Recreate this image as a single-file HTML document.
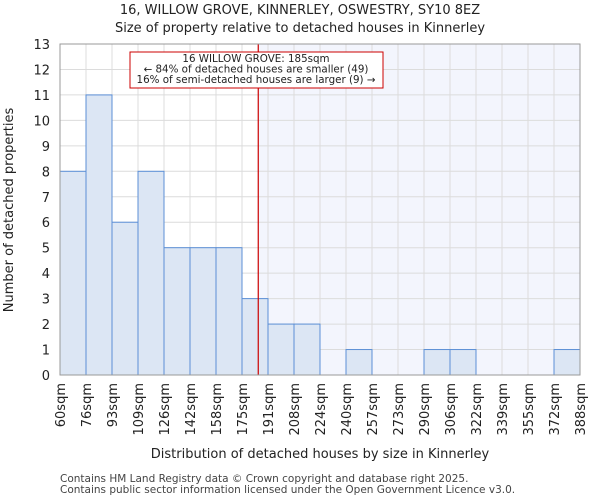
<!DOCTYPE html>
<html><head><meta charset="utf-8"><style>body{margin:0;background:#fff;font-family:"DejaVu Sans","Liberation Sans",sans-serif}</style></head>
<body>
<svg id="chart" width="600" height="500" xmlns="http://www.w3.org/2000/svg" font-family="DejaVu Sans, Liberation Sans, sans-serif"></svg>
<script>
const binLabels=["60sqm","76sqm","93sqm","109sqm","126sqm","142sqm","158sqm","175sqm","191sqm","208sqm","224sqm","240sqm","257sqm","273sqm","290sqm","306sqm","322sqm","339sqm","355sqm","372sqm","388sqm"];
const binEdges=[60,76,93,109,126,142,158,175,191,208,224,240,257,273,290,306,322,339,355,372,388];
const counts=[8,11,6,8,5,5,5,3,2,2,0,1,0,0,1,1,0,0,0,1];
const yTicks=[0,1,2,3,4,5,6,7,8,9,10,11,12,13];
const markerValue=185;
const L=60,R=580,T=44,B=375,YMAX=13;
const NS="http://www.w3.org/2000/svg";
const svg=document.getElementById('chart');
const n=counts.length;
const xi=i=>L+(R-L)*i/n;
function xv(v){for(let i=0;i<n;i++){if(v<=binEdges[i+1])return xi(i)+(v-binEdges[i])/(binEdges[i+1]-binEdges[i])*(R-L)/n;}return R;}
const y=v=>B-(B-T)*v/YMAX;
function el(t,a,p){const e=document.createElementNS(NS,t);for(const k in a)e.setAttribute(k,a[k]);(p||svg).appendChild(e);return e;}
const mx=xv(markerValue);
let e=el('rect',{x:mx,y:T,width:R-mx,height:B-T,fill:'#f3f5fd'});


yTicks.forEach(t=>{let g=el('line',{x1:L,x2:R,y1:y(t),y2:y(t),stroke:'#dcdcdc','stroke-width':1});


let tx=el('text',{x:L-10,y:y(t)+5,'text-anchor':'end','font-size':13,fill:'#222'});tx.textContent=t;

});
for(let i=0;i<=n;i++){let g=el('line',{x1:xi(i),x2:xi(i),y1:T,y2:B,stroke:'#dcdcdc','stroke-width':1});


let tx=el('text',{transform:`translate(${xi(i)+5},${B+8}) rotate(-90)`,'text-anchor':'end','font-size':13,fill:'#222'});tx.textContent=binLabels[i];

}
counts.forEach((c,i)=>{if(c<=0)return;let r=el('rect',{x:xi(i),y:y(c),width:(R-L)/n,height:B-y(c),fill:'#dce6f4',stroke:'#5b8fd6','stroke-width':1});

});
e=el('line',{x1:mx,x2:mx,y1:T,y2:B,stroke:'#cc0000','stroke-width':1.2});


e=el('rect',{x:L,y:T,width:R-L,height:B-T,fill:'none',stroke:'#999'});


const box=el('g',{});


el('rect',{x:130,y:52,width:253,height:36,fill:'#fff',stroke:'#cc0000'},box);
["16 WILLOW GROVE: 185sqm","← 84% of detached houses are smaller (49)","16% of semi-detached houses are larger (9) →"].forEach((s,k)=>{let t=el('text',{x:256,y:62+k*10.5,'text-anchor':'middle','font-size':10.3,fill:'#222'},box);t.textContent=s;});
function txt(s,a,name){let t=el('text',a);t.textContent=s;}
txt("16, WILLOW GROVE, KINNERLEY, OSWESTRY, SY10 8EZ",{x:300,y:14,'text-anchor':'middle','font-size':13,fill:'#222'},'chart-title');
txt("Size of property relative to detached houses in Kinnerley",{x:300,y:32,'text-anchor':'middle','font-size':13,fill:'#222'},'chart-subtitle');
txt("Distribution of detached houses by size in Kinnerley",{x:320,y:458,'text-anchor':'middle','font-size':13,fill:'#222'},'x-axis-title');
txt("Number of detached properties",{transform:'translate(13,210) rotate(-90)','text-anchor':'middle','font-size':13,fill:'#222'},'y-axis-title');
txt("Contains HM Land Registry data © Crown copyright and database right 2025.",{x:60,y:482,'font-size':10.5,fill:'#444'},'footer-line-1');
txt("Contains public sector information licensed under the Open Government Licence v3.0.",{x:60,y:493,'font-size':10.5,fill:'#444'},'footer-line-2');
</script>
</body></html>
